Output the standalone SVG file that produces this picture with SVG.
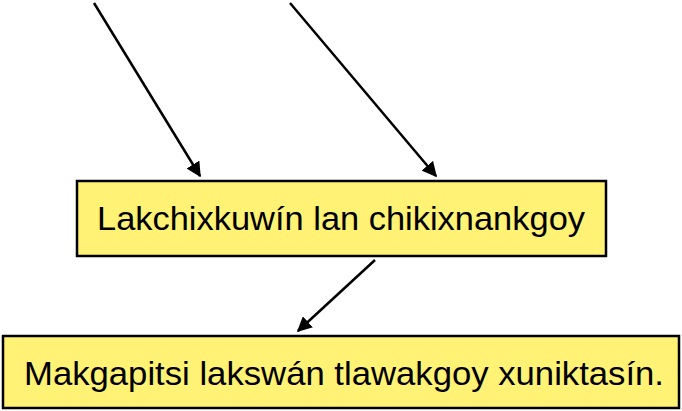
<svg xmlns="http://www.w3.org/2000/svg" width="682" height="411" viewBox="0 0 682 411">
<style>
.box{fill:#FFF275;stroke:#000;stroke-width:2.5}
.lbl{font-family:"Liberation Sans",Arial,sans-serif;font-size:33px;fill:#000;text-anchor:middle}
.conn{stroke:#000;stroke-width:2.5;fill:none;marker-end:url(#ah)}
</style>
<defs>
<marker id="ah" viewBox="0 0 10 10" refX="9" refY="5" markerWidth="6" markerHeight="6" orient="auto" markerUnits="strokeWidth">
<path d="M0,0 L10,5 L0,10 z" fill="#000"/>
</marker>
</defs>
<rect width="682" height="411" fill="#fff"/>
<g id="connectors">
<line class="conn" x1="94" y1="3" x2="200" y2="176"/>
<line class="conn" x1="290" y1="3" x2="436" y2="176"/>
<line class="conn" x1="375" y1="260" x2="298" y2="331"/>
</g>
<g id="node1">
<rect class="box" x="77" y="181" width="529" height="75"/>
<text class="lbl" x="341" y="230" textLength="488" lengthAdjust="spacingAndGlyphs">Lakchixkuwín lan chikixnankgoy</text>
</g>
<g id="node2">
<rect class="box" x="3" y="336" width="676" height="72"/>
<text class="lbl" x="344" y="385" textLength="640" lengthAdjust="spacingAndGlyphs">Makgapitsi lakswán tlawakgoy xuniktasín.</text>
</g>
</svg>
